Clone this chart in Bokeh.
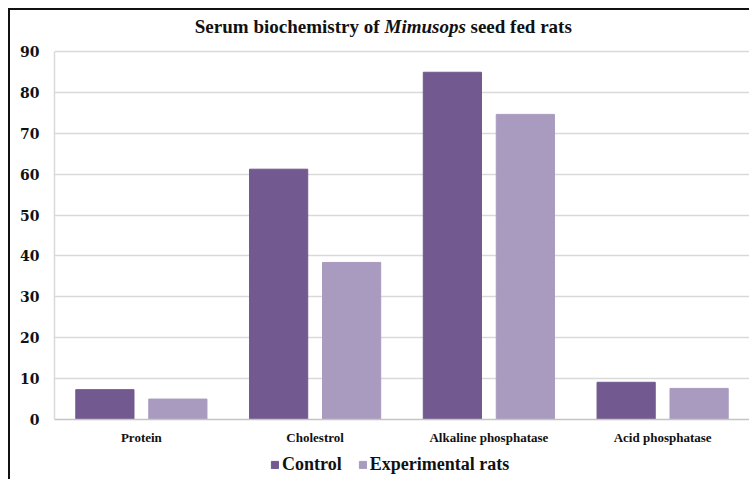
from bokeh.plotting import figure
from bokeh.models import ColumnDataSource, FactorRange, Legend, LegendItem, Label
from bokeh.layouts import column
from bokeh.transform import dodge
from bokeh.embed import file_html
from bokeh.resources import INLINE

categories = ["Protein", "Cholestrol", "Alkaline phosphatase", "Acid phosphatase"]
control = [7.3, 61.2, 84.9, 9.1]
experimental = [5.0, 38.4, 74.6, 7.6]
series_names = ["Control", "Experimental rats"]
y_ticks = [0, 10, 20, 30, 40, 50, 60, 70, 80, 90]

C_CTRL = "#72598f"
C_EXP = "#a99bbf"
FONT = "Liberation Serif"
NUM_FONT = "DejaVu Serif"
TXT = "#111111"

src = ColumnDataSource(dict(cat=categories, control=control, exp=experimental))

W = 739
H_MAIN = 437
BOTTOM = 28
H_LEG = 32

p = figure(x_range=FactorRange(*categories), y_range=(0, 100),
           width=W, height=H_MAIN, output_backend="svg", toolbar_location=None,
           min_border_left=44, min_border_right=0, min_border_top=0, min_border_bottom=BOTTOM)
p.outline_line_color = None
p.background_fill_color = "white"

p.vbar(x=dodge("cat", -0.21, range=p.x_range), top="control", width=0.335,
       source=src, fill_color=C_CTRL, line_color=C_CTRL)
p.vbar(x=dodge("cat", 0.21, range=p.x_range), top="exp", width=0.335,
       source=src, fill_color=C_EXP, line_color=C_EXP)

p.xgrid.grid_line_color = None
p.ygrid.grid_line_color = "#d9d9d9"
p.ygrid.grid_line_width = 1.5
p.yaxis.ticker = y_ticks
p.yaxis.bounds = (0, 90)
p.yaxis.axis_line_color = "#d9d9d9"
p.yaxis.axis_line_width = 1.5
p.yaxis.major_tick_line_color = None
p.yaxis.minor_tick_line_color = None
p.yaxis.major_tick_out = 0
p.yaxis.major_tick_in = 0
p.yaxis.major_label_text_font = NUM_FONT
p.yaxis.major_label_text_font_style = "bold"
p.yaxis.major_label_text_font_size = "14px"
p.yaxis.major_label_text_color = TXT
p.yaxis.major_label_standoff = 15

p.xaxis.axis_line_color = "#c4c4c4"
p.xaxis.axis_line_width = 1.5
p.xaxis.major_tick_line_color = None
p.xaxis.minor_tick_line_color = None
p.xaxis.major_tick_out = 0
p.xaxis.major_tick_in = 0
p.xaxis.major_label_text_font = FONT
p.xaxis.major_label_text_font_style = "bold"
p.xaxis.major_label_text_font_size = "13px"
p.xaxis.major_label_text_color = TXT
p.xaxis.major_label_standoff = 10

frame_h = H_MAIN - BOTTOM
ty = frame_h - 16
p.add_layout(Label(x=325, y=ty, x_units="screen", y_units="screen",
                   text="Serum biochemistry of", text_align="right", text_baseline="middle",
                   text_font=FONT, text_font_style="bold", text_font_size="19px", text_color=TXT))
p.add_layout(Label(x=330, y=ty, x_units="screen", y_units="screen",
                   text="Mimusops", text_align="left", text_baseline="middle",
                   text_font=FONT, text_font_style="bold italic", text_font_size="19px", text_color=TXT))
p.add_layout(Label(x=416, y=ty, x_units="screen", y_units="screen",
                   text="seed fed rats", text_align="left", text_baseline="middle",
                   text_font=FONT, text_font_style="bold", text_font_size="19px", text_color=TXT))

# legend strip below the chart (bars drawn far outside its visible range)
pl = figure(width=W, height=H_LEG, output_backend="svg", toolbar_location=None,
            x_range=FactorRange(*categories), y_range=(1000, 1001),
            min_border_left=0, min_border_right=0, min_border_top=0, min_border_bottom=0)
pl.outline_line_color = None
pl.axis.visible = False
pl.grid.visible = False
l1 = pl.vbar(x="cat", top="control", width=0.3, source=src, fill_color=C_CTRL, line_color=C_CTRL)
l2 = pl.vbar(x="cat", top="exp", width=0.3, source=src, fill_color=C_EXP, line_color=C_EXP)

legend = Legend(items=[LegendItem(label=series_names[0], renderers=[l1]),
                       LegendItem(label=series_names[1], renderers=[l2])],
                location=(216, 4), orientation="horizontal")
legend.border_line_color = None
legend.background_fill_alpha = 0
legend.label_text_font = FONT
legend.label_text_font_style = "bold"
legend.label_text_font_size = "18px"
legend.label_text_color = TXT
legend.glyph_width = 9
legend.glyph_height = 9
legend.label_standoff = 3
legend.spacing = 16
legend.padding = 0
legend.margin = 0
pl.add_layout(legend)

layout = column(p, pl, spacing=0)
layout.styles = {"margin-top": "8px", "margin-left": "8px",
                 "border-top": "2px solid #111", "border-left": "2px solid #111"}

open("out.html", "w").write(file_html(layout, INLINE))
